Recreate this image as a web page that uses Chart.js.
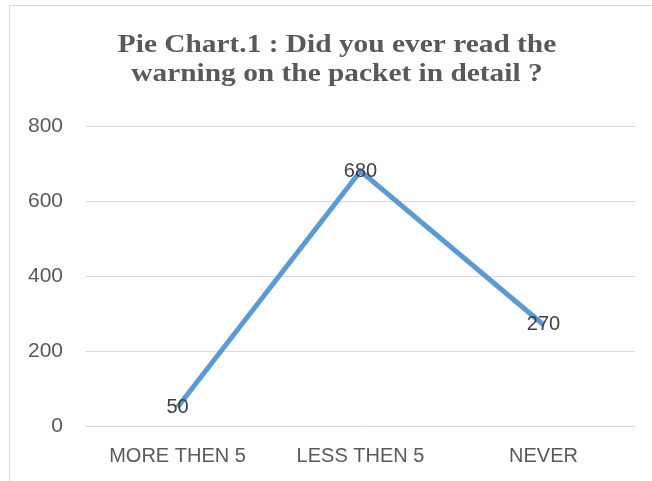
<!DOCTYPE html>
<html>
<head>
<meta charset="utf-8">
<script src="https://cdn.jsdelivr.net/npm/chart.js@4.4.1/dist/chart.umd.min.js"></script>
<style>
  html, body { margin: 0; padding: 0; background: #fff; overflow: hidden; }
  #frame { position: absolute; left: 9px; top: 5px; width: 700px; height: 520px;
           border-left: 1px solid #d9d9d9; border-top: 1px solid #d9d9d9; }
  #wrap { position: absolute; left: 0; top: 0; width: 652px; height: 481px; }
</style>
</head>
<body>
<div id="frame"></div>
<div id="wrap"><canvas id="mylinechart" width="652" height="481"></canvas></div>
<script>
// answers
const categories = ['MORE THEN 5', 'LESS THEN 5', 'NEVER']
const counts = [50, 680, 270]
const yTicks = [0, 200, 400, 600, 800]
const titleLines = ['Pie Chart.1 : Did you ever read the', 'warning on the packet in detail ?']

const sansFont = '"Liberation Sans", Arial, sans-serif'

// title drawn by hand, the original is a bit stretched sideways
const wideTitle = {
    id: 'wideTitle',
    afterDraw(chart) {
        const ctx = chart.ctx
        ctx.save()
        ctx.font = 'bold 26px "Liberation Serif", "Times New Roman", serif'
        ctx.fillStyle = '#595959'
        ctx.textAlign = 'center'
        ctx.textBaseline = 'alphabetic'
        ctx.translate(337, 0)
        ctx.scale(1.13, 1)
        ctx.fillText(titleLines[0], 0, 52)
        ctx.fillText(titleLines[1], 0, 81)
        ctx.restore()
    }
}

// draws value labels centred on each point
const valueLabels = {
    id: 'valueLabels',
    afterDatasetsDraw(chart) {
        const ctx = chart.ctx
        const meta = chart.getDatasetMeta(0)
        ctx.save()
        ctx.font = '20px ' + sansFont
        ctx.fillStyle = '#404040'
        ctx.textAlign = 'center'
        ctx.textBaseline = 'middle'
        meta.data.forEach(function(pt, i) {
            ctx.fillText(String(counts[i]), pt.x, pt.y)
        })
        ctx.restore()
    }
}

const canvas = document.getElementById('mylinechart')
new Chart(canvas, {
    type: 'line',
    data: {
        labels: categories,
        datasets: [{
            data: counts,
            borderColor: '#5B9BD5',
            borderWidth: 5,
            pointRadius: 0,
            fill: false,
            tension: 0
        }]
    },
    options: {
        responsive: false,
        animation: false,
        layout: { padding: { left: 0, right: 17, top: 126, bottom: 13 } },
        plugins: {
            legend: { display: false },
            tooltip: { enabled: false },
            title: { display: false }
        },
        scales: {
            x: {
                offset: true,
                grid: { display: false, drawTicks: false },
                border: { display: false },
                ticks: { color: '#595959', font: { family: sansFont, size: 20, lineHeight: 1.2 }, padding: 18, maxRotation: 0 },
                afterFit: function(scale) { scale.height = 42 }
            },
            y: {
                min: 0,
                max: 800,
                afterBuildTicks: function(scale) { scale.ticks = yTicks.map(v => ({ value: v })) },
                grid: { color: '#d9d9d9', lineWidth: 1, drawTicks: false },
                border: { display: false },
                ticks: { color: '#595959', font: { family: sansFont, size: 21 }, padding: 23 },
                afterFit: function(scale) { scale.width = 86 }
            }
        }
    },
    plugins: [valueLabels, wideTitle]
})
</script>
</body>
</html>
